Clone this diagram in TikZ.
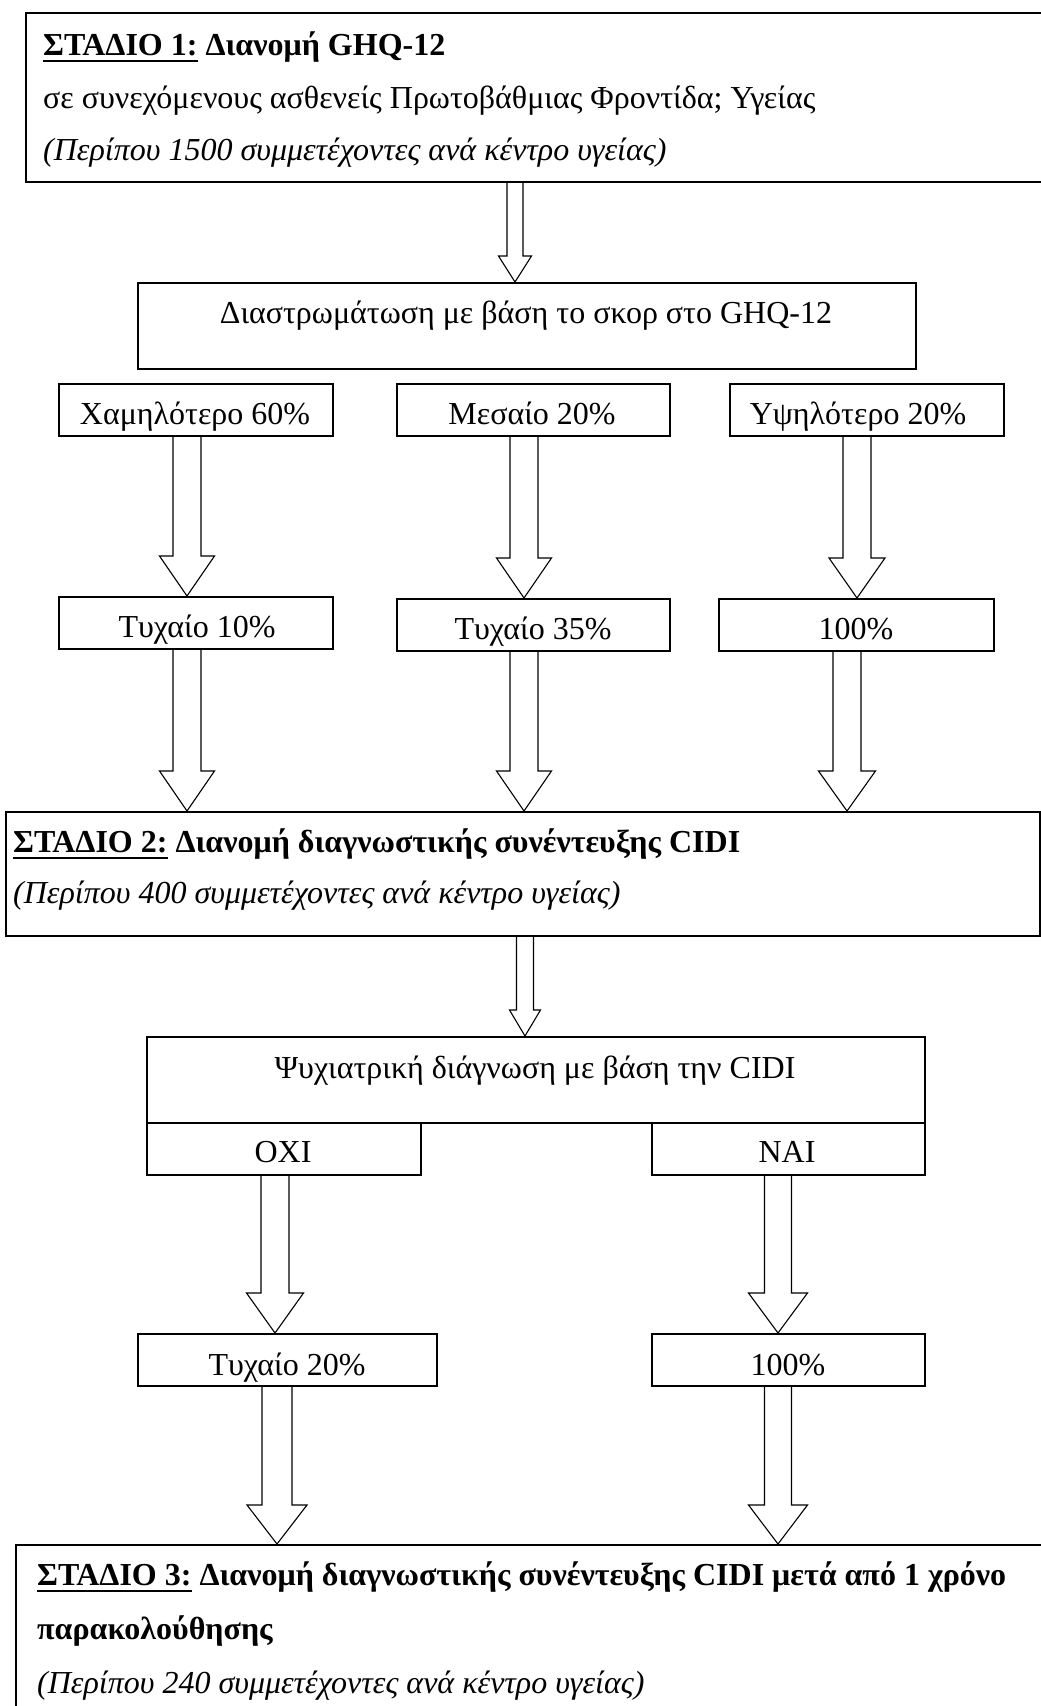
\documentclass[tikz,border=0pt]{standalone}
\usepackage{fontspec}
\setmainfont{Liberation Serif}
\usetikzlibrary{calc}
\newcommand\ulstage[1]{\setbox0\hbox{#1}\rlap{\rule[-7pt]{\wd0}{2.4pt}}\box0\relax}
\tikzset{
  box/.style={draw, line width=1.5pt, inner sep=0pt, anchor=north west},
  sz/.style 2 args={minimum width=#1pt, minimum height=#2pt},
  txt/.style={inner sep=0pt, anchor=base, font=\fontsize{32}{38}\selectfont},
  txtl/.style={txt, anchor=base west},
  barrow/.style n args={3}{line width=1.1pt, line join=miter,
    to path={let \p1=(\tikztostart), \p2=(\tikztotarget) in
      (\x2-#1pt,\y1) -- (\x2-#1pt,\y2+#3pt) -- (\x2-#2pt,\y2+#3pt) -- (\x2,\y2)
      -- (\x2+#2pt,\y2+#3pt) -- (\x2+#1pt,\y2+#3pt) -- (\x2+#1pt,\y1)}},
}
\begin{document}
\begin{tikzpicture}[x=1pt,y=-1pt]
\useasboundingbox (0,0) rectangle (1041,1706);
\clip (0,0) rectangle (1041,1706);
% boxes
\node[box, sz={1040}{169}] (s1) at (25,12) {};
\node[box, sz={778}{86}] (strat) at (137,282) {};
\node[box, sz={274}{52}] (low) at (58,383) {};
\node[box, sz={273}{52}] (mid) at (396,383) {};
\node[box, sz={274}{52}] (high) at (729,383) {};
\node[box, sz={274}{52}] (r10) at (58,596) {};
\node[box, sz={273}{52}] (r35) at (396,598) {};
\node[box, sz={275}{52}] (all100) at (718,598) {};
\node[box, sz={1034}{124}] (s2) at (5,811) {};
\node[box, sz={778}{86}] (psy) at (146,1036) {};
\node[box, sz={274}{52}] (no) at (146,1122) {};
\node[box, sz={273}{52}] (yes) at (651,1122) {};
\node[box, sz={299}{52}] (r20) at (137,1333) {};
\node[box, sz={273}{52}] (y100) at (651,1333) {};
\node[box, sz={1050}{180}] (s3) at (15,1544) {};
% texts
\node[txtl] (s1a) at (43,55) {\textbf{\ulstage{ΣΤΑΔΙΟ 1:} Διανομή GHQ-12}};
\node[txtl] (s1b) at (43,108) {σε συνεχόμενους ασθενείς Πρωτοβάθμιας Φροντίδα; Υγείας};
\node[txtl] (s1c) at (43,160) {\textit{(Περίπου 1500 συμμετέχοντες ανά κέντρο υγείας)}};
\node[txt] (strat-t) at (526,323) {Διαστρωμάτωση με βάση το σκορ στο GHQ-12};
\node[txt] (low-t) at (195,424) {Χαμηλότερο 60\%};
\node[txt] (mid-t) at (532,424) {Μεσαίο 20\%};
\node[txt] (high-t) at (858,424) {Υψηλότερο 20\%};
\node[txt] (r10-t) at (197,637) {Τυχαίο 10\%};
\node[txt] (r35-t) at (533,639) {Τυχαίο 35\%};
\node[txt] (all100-t) at (856,639) {100\%};
\node[txtl] (s2a) at (13,852) {\textbf{\ulstage{ΣΤΑΔΙΟ 2:} Διανομή διαγνωστικής συνέντευξης CIDI}};
\node[txtl] (s2b) at (13,903) {\textit{(Περίπου 400 συμμετέχοντες ανά κέντρο υγείας)}};
\node[txt] (psy-t) at (535,1078) {Ψυχιατρική διάγνωση με βάση την CIDI};
\node[txt] (no-t) at (283,1162) {ΟΧΙ};
\node[txt] (yes-t) at (787,1162) {ΝΑΙ};
\node[txt] (r20-t) at (287,1375) {Τυχαίο 20\%};
\node[txt] (y100-t) at (788,1375) {100\%};
\node[txtl] (s3a) at (37,1585) {\textbf{\ulstage{ΣΤΑΔΙΟ 3:} Διανομή διαγνωστικής συνέντευξης CIDI μετά από 1 χρόνο}};
\node[txtl] (s3b) at (37,1639) {\textbf{παρακολούθησης}};
\node[txtl] (s3c) at (37,1693) {\textit{(Περίπου 240 συμμετέχοντες ανά κέντρο υγείας)}};
% arrow axes
\coordinate (xa) at (515,0);
\coordinate (xb1) at (187,0);
\coordinate (xb2) at (524,0);
\coordinate (xb3) at (857,0);
\coordinate (xc3) at (847,0);
\coordinate (xd) at (525,0);
\coordinate (xe1) at (275,0);
\coordinate (xf1) at (277,0);
\coordinate (xe2) at (778,0);
% arrows
\draw[barrow={8}{16.5}{26}] (s1.south -| xa) to (strat.north -| xa);
\draw[barrow={14}{27.5}{40}] (low.south -| xb1) to (r10.north -| xb1);
\draw[barrow={14}{27.5}{40}] (mid.south -| xb2) to (r35.north -| xb2);
\draw[barrow={14}{28}{40}] (high.south -| xb3) to (all100.north -| xb3);
\draw[barrow={14}{27.5}{40}] (r10.south -| xb1) to (s2.north -| xb1);
\draw[barrow={14}{27.5}{40}] (r35.south -| xb2) to (s2.north -| xb2);
\draw[barrow={14}{28.5}{40}] (all100.south -| xc3) to (s2.north -| xc3);
\draw[barrow={8.5}{15.5}{26}] (s2.south -| xd) to (psy.north -| xd);
\draw[barrow={14}{28.5}{40}] (no.south -| xe1) to (r20.north -| xe1);
\draw[barrow={13.5}{29.5}{40}] (yes.south -| xe2) to (y100.north -| xe2);
\draw[barrow={15}{30}{39}] (r20.south -| xf1) to (s3.north -| xf1);
\draw[barrow={13.5}{29.5}{39}] (y100.south -| xe2) to (s3.north -| xe2);
\end{tikzpicture}
\end{document}
